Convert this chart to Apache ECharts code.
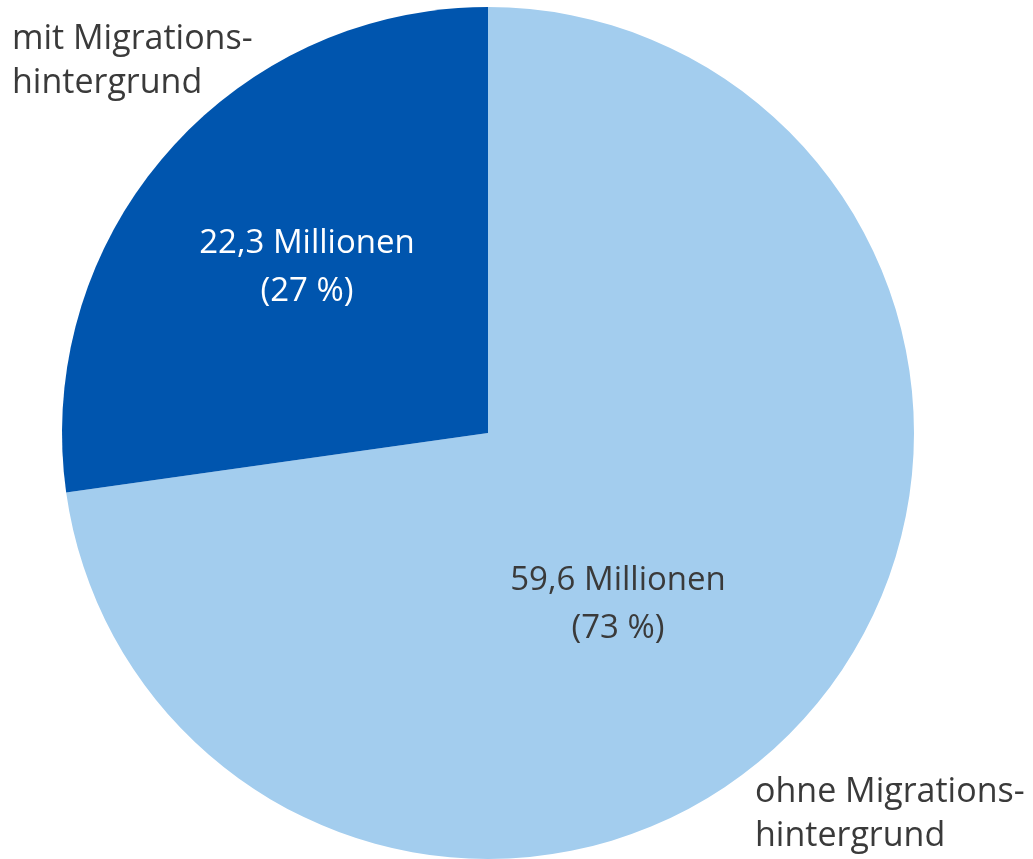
<!DOCTYPE html>
<html>
<head>
<meta charset="utf-8">
<script src="https://cdn.jsdelivr.net/npm/echarts@6/dist/echarts.min.js"></script>
<style>
  html, body { margin: 0; padding: 0; background: #fff; }
  #chart { width: 1033px; height: 859px; }
</style>
</head>
<body>
<div id="chart"></div>
<script>
// Bevölkerung nach Migrationshintergrund
var categories = ['ohne Migrationshintergrund', 'mit Migrationshintergrund'];
var valuesMio = [59.6, 22.3];
var percents = [73, 27];
var colors = ['#a3cdee', '#0055ae'];
var labelColors = ['#3a3a3a', '#ffffff'];

var fontName = '"Open Sans", "Noto Sans", sans-serif';

var chart = echarts.init(document.getElementById('chart'));

var seriesData = categories.map(function (name, i) {
    return {
        name: name,
        value: valuesMio[i],
        itemStyle: { color: colors[i] },
        label: { color: labelColors[i] }
    };
});

chart.setOption({
    animation: false,
    series: [{
        type: 'pie',
        center: [488, 433],
        radius: [0, 426],
        startAngle: 90,
        clockwise: true,
        data: seriesData,
        itemStyle: { borderWidth: 0 },
        label: {
            show: true,
            position: 'inside',
            fontFamily: fontName,
            fontSize: 33,
            lineHeight: 48,
            formatter: function (p) {
                var v = valuesMio[p.dataIndex].toFixed(1).replace('.', ',');
                return v + ' Millionen\n(' + percents[p.dataIndex] + ' %)';
            }
        },
        labelLayout: function (params) {
            // Beschriftungen leicht verschieben wie im Original
            if (params.dataIndex === 0) {
                return { dx: -33, dy: 30 };
            }
            return { dx: -18, dy: -24 };
        },
        emphasis: { disabled: true }
    }],
    graphic: [{
        type: 'text',
        left: 12,
        top: 17,
        style: {
            text: 'mit Migrations-\nhintergrund',
            font: '34px ' + fontName,
            fill: '#3a3a3a',
            lineHeight: 44
        }
    }, {
        type: 'text',
        left: 755,
        top: 770,
        style: {
            text: 'ohne Migrations-\nhintergrund',
            font: '34px ' + fontName,
            fill: '#3a3a3a',
            lineHeight: 44
        }
    }]
});
</script>
</body>
</html>
